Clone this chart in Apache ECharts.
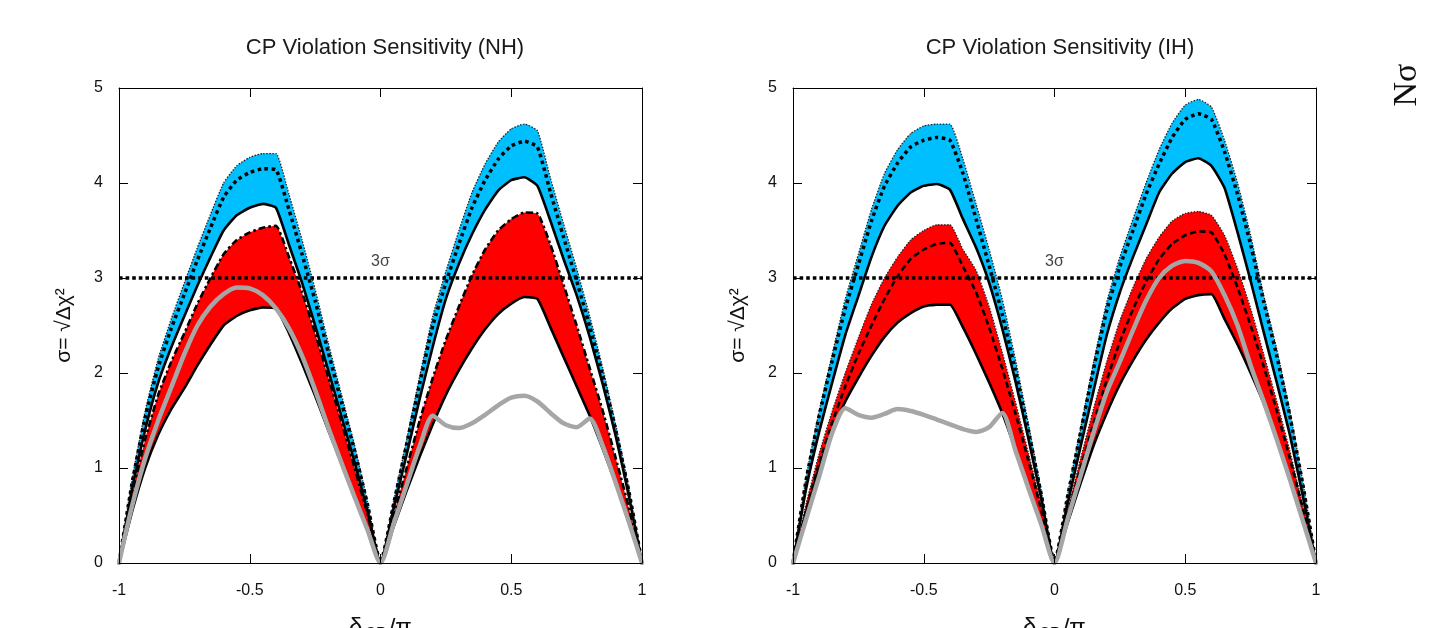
<!DOCTYPE html>
<html><head><meta charset="utf-8">
<script src="https://cdn.jsdelivr.net/npm/echarts@6/dist/echarts.min.js"></script>
<style>html,body{margin:0;padding:0;background:#fff}#c{width:1430px;height:628px}</style>
</head><body><div id="c"></div>
<script>
// delta_CP / pi grid
const xs = [-1,-0.95,-0.9,-0.85,-0.8,-0.75,-0.7,-0.65,-0.6,-0.55,-0.5,-0.45,-0.4,-0.35,-0.3,-0.25,-0.2,-0.15,-0.1,-0.05,
  0,0.05,0.1,0.15,0.2,0.25,0.3,0.35,0.4,0.45,0.5,0.55,0.6,0.65,0.7,0.75,0.8,0.85,0.9,0.95,1];

// ---- NH panel ----
const nhBlueTop = [0,0.88,1.6,2.15,2.57,2.95,3.32,3.67,4.0,4.18,4.27,4.31,4.31,3.88,3.4,2.88,2.32,1.78,1.25,0.65,
  0,0.65,1.3,1.97,2.6,3.07,3.5,3.9,4.2,4.43,4.57,4.62,4.55,4.05,3.57,3.1,2.6,2.05,1.45,0.78,0];
const nhBlueMid = [0,0.84,1.53,2.06,2.47,2.83,3.19,3.53,3.85,4.03,4.11,4.15,4.14,3.72,3.25,2.76,2.22,1.7,1.19,0.62,
  0,0.62,1.25,1.89,2.5,2.95,3.36,3.74,4.03,4.25,4.39,4.44,4.38,3.9,3.43,2.97,2.49,1.97,1.39,0.75,0];
const nhBlueBot = [0,0.77,1.4,1.9,2.27,2.6,2.92,3.22,3.5,3.66,3.74,3.78,3.74,3.35,2.95,2.5,2.03,1.55,1.07,0.55,
  0,0.57,1.14,1.73,2.28,2.78,3.15,3.46,3.72,3.92,4.03,4.06,3.97,3.6,3.2,2.82,2.38,1.88,1.33,0.7,0];
const nhRedTop = [0,0.72,1.3,1.77,2.12,2.42,2.73,3.0,3.25,3.4,3.48,3.53,3.55,3.22,2.85,2.42,1.96,1.49,1.01,0.52,
  0,0.5,1.0,1.5,1.95,2.35,2.7,3.03,3.3,3.5,3.62,3.69,3.68,3.35,2.93,2.5,2.05,1.6,1.1,0.58,0];
const nhRedBot = [0,0.54,1.0,1.35,1.62,1.84,2.08,2.3,2.5,2.6,2.66,2.69,2.68,2.42,2.1,1.76,1.4,1.05,0.7,0.35,
  0,0.38,0.76,1.12,1.46,1.77,2.03,2.26,2.46,2.62,2.73,2.8,2.78,2.48,2.17,1.86,1.55,1.2,0.83,0.43,0];
const nhGray = [0,0.6,1.1,1.5,1.85,2.2,2.5,2.7,2.83,2.9,2.89,2.82,2.68,2.47,2.18,1.82,1.43,1.06,0.7,0.35,
  0,0.41,0.82,1.23,1.55,1.45,1.42,1.47,1.56,1.66,1.74,1.76,1.7,1.58,1.47,1.43,1.52,1.23,0.84,0.43,0];

// ---- IH panel ----
const ihBlueTop = [0,0.9,1.6,2.2,2.78,3.25,3.72,4.1,4.35,4.52,4.6,4.62,4.62,4.25,3.78,3.3,2.78,2.15,1.47,0.75,
  0,0.72,1.42,2.12,2.75,3.22,3.62,4.0,4.35,4.63,4.82,4.88,4.8,4.45,4.0,3.45,2.82,2.25,1.6,0.85,0];
const ihBlueMid = [0,0.87,1.55,2.13,2.68,3.14,3.6,3.97,4.21,4.38,4.45,4.48,4.45,4.1,3.62,3.13,2.62,2.03,1.39,0.71,
  0,0.7,1.38,2.05,2.66,3.12,3.5,3.88,4.2,4.48,4.67,4.73,4.67,4.33,3.88,3.35,2.75,2.18,1.55,0.82,0];
const ihBlueBot = [0,0.78,1.38,1.9,2.4,2.81,3.22,3.55,3.76,3.9,3.97,3.99,3.93,3.62,3.32,2.95,2.47,1.92,1.31,0.67,
  0,0.62,1.23,1.82,2.4,2.85,3.22,3.56,3.9,4.1,4.22,4.26,4.18,3.95,3.48,2.97,2.43,1.9,1.35,0.7,0];
const ihRedTop = [0,0.62,1.15,1.6,2.0,2.37,2.72,3.0,3.22,3.4,3.5,3.56,3.56,3.3,3.08,2.7,2.22,1.7,1.16,0.6,
  0,0.55,1.1,1.63,2.12,2.55,2.9,3.2,3.43,3.6,3.68,3.7,3.66,3.45,3.1,2.68,2.2,1.7,1.18,0.6,0];
const ihRedMid = [0,0.55,1.05,1.48,1.86,2.2,2.5,2.78,3.02,3.2,3.3,3.36,3.37,3.12,2.85,2.48,2.05,1.58,1.08,0.55,
  0,0.5,1.0,1.48,1.93,2.33,2.67,2.96,3.2,3.36,3.45,3.49,3.48,3.25,2.9,2.5,2.07,1.6,1.1,0.57,0];
const ihRedBot = [0,0.52,1.0,1.38,1.7,1.95,2.18,2.38,2.53,2.63,2.7,2.72,2.72,2.48,2.2,1.9,1.58,1.2,0.8,0.4,
  0,0.42,0.84,1.24,1.58,1.88,2.13,2.35,2.53,2.68,2.78,2.82,2.83,2.57,2.3,2.0,1.68,1.3,0.9,0.46,0];
const ihGray = [0,0.46,0.91,1.37,1.63,1.56,1.53,1.57,1.62,1.6,1.56,1.51,1.46,1.41,1.38,1.43,1.58,1.19,0.79,0.4,
  0,0.46,0.92,1.38,1.8,2.12,2.45,2.76,3.0,3.13,3.18,3.16,3.07,2.82,2.5,2.08,1.7,1.3,0.88,0.44,0];

const sigmaLevel = [3];
const sigmaText = '3σ';
const xTickLabels = {'-1':'-1','-0.5':'-0.5','0':'0','0.5':'0.5','1':'1'};
const yTickLabels = {'0':'0','1':'1','2':'2','3':'3','4':'4','5':'5'};
const titles = ['CP Violation Sensitivity (NH)', 'CP Violation Sensitivity (IH)'];

const BLUE = '#00bfff', RED = '#ff0000', GRAY = '#a6a6a6';
const FONT = '"Liberation Sans", Arial, Helvetica, sans-serif';

function pts(ys){ return xs.map((x,i)=>[x, ys[i]]); }

function area(g, ys, color){
  return {type:'line', xAxisIndex:2*g, yAxisIndex:2*g, data:pts(ys), showSymbol:false, silent:true, smooth:0.15,
    lineStyle:{width:0, opacity:0}, areaStyle:{color:color, opacity:1, origin:'start'}, animation:false};
}
function line(g, ys, ls, color, sm){
  return {type:'line', xAxisIndex:2*g, yAxisIndex:2*g, data:pts(ys), showSymbol:false, silent:true,
    smooth: sm===undefined ? 0.15 : sm,
    lineStyle:Object.assign({color: color||'#000', cap:'butt', join:'miter'}, ls), animation:false};
}

const fineDot = {width:1.3, type:[1.5,1.5], color:'#222'};
const bigDot = {width:3.5, type:[3.5,3.5]};
const solid = {width:2.6, type:'solid'};
const dashDot = {width:2.6, type:[7,3,2.5,3]};
const dashed = {width:2.6, type:[6,3.5]};

function panel(g, d){
  const s = [
    area(g, d.bt, BLUE),
    area(g, d.bb, '#ffffff'),
    area(g, d.rt, RED),
    area(g, d.rb, '#ffffff'),
    line(g, d.bt, fineDot),
    line(g, d.bm, bigDot),
    line(g, d.bb, solid),
    line(g, d.rt, d.rtStyle),
  ];
  if (d.rm) s.push(line(g, d.rm, dashed));
  s.push(line(g, d.rb, solid));
  s.push({type:'line', xAxisIndex:2*g, yAxisIndex:2*g, data:[[-1,sigmaLevel[0]],[1,sigmaLevel[0]]],
    showSymbol:false, silent:true, animation:false,
    lineStyle:{color:'#000', width:3.6, type:[3.6,3], cap:'butt'}});
  s.push(line(g, d.gr, {width:4.5, type:'solid', cap:'round', join:'round'}, GRAY, 0.25));
  s.push({type:'scatter', xAxisIndex:2*g, yAxisIndex:2*g, data:[[0, sigmaLevel[0]]], symbolSize:0, silent:true,
    animation:false,
    label:{show:true, position:'top', distance:8, formatter:sigmaText, fontSize:16, color:'#111', fontFamily:FONT}});
  return s;
}

function xAx(g, pos){
  const bottom = pos==='bottom';
  return {gridIndex:g, type:'value', position:pos, min:-1, max:1, interval:0.5, z:10,
    axisLine:{onZero:false, lineStyle:{color:'#000', width:1}},
    axisTick:{inside:true, length:9, lineStyle:{color:'#000'}},
    axisLabel:{show:bottom, margin:20, fontSize:16, color:'#111', fontFamily:FONT,
      formatter:v=>xTickLabels[String(v)] ?? String(v)},
    splitLine:{show:false},
    name: bottom ? '{d|δ}{s|CP}{d|/π}' : '',
    nameLocation:'middle', nameGap:50,
    nameTextStyle:{rich:{d:{fontSize:24, fontFamily:FONT, color:'#111'}, s:{fontSize:16, fontFamily:FONT, color:'#111', verticalAlign:'bottom', padding:[14,2,0,2]}}}
  };
}
function yAx(g, pos){
  const left = pos==='left';
  return {gridIndex:g, type:'value', position:pos, min:0, max:5, interval:1, z:10,
    axisLine:{onZero:false, lineStyle:{color:'#000', width:1}},
    axisTick:{inside:true, length:9, lineStyle:{color:'#000'}},
    axisLabel:{show:left, margin:16, fontSize:16, color:'#111', fontFamily:FONT,
      formatter:v=>yTickLabels[String(v)] ?? String(v)},
    splitLine:{show:false},
    name: left ? 'σ= √Δχ²' : '',
    nameLocation:'middle', nameGap:44, nameRotate:90,
    nameTextStyle:{fontSize:21, fontFamily:FONT, color:'#111'}
  };
}

const option = {
  backgroundColor:'#ffffff',
  animation:false,
  title: titles.map((t,i)=>({text:t, left: i===0 ? 380 : 1055, top:32, textAlign:'center',
    textStyle:{fontSize:22, fontWeight:'normal', color:'#1a1a1a', fontFamily:FONT}})),
  grid:[{left:119, top:88, width:523, height:475, outerBoundsMode:'none', containLabel:false},
        {left:793, top:88, width:523, height:475, outerBoundsMode:'none', containLabel:false}],
  xAxis:[xAx(0,'bottom'), xAx(0,'top'), xAx(1,'bottom'), xAx(1,'top')],
  yAxis:[yAx(0,'left'), yAx(0,'right'), yAx(1,'left'), yAx(1,'right')],
  graphic:[{type:'text', x:1407, y:85, rotation:Math.PI/2,
    style:{text:'Nσ', font:'34px "Liberation Serif", "DejaVu Serif", serif', fill:'#111', align:'center', verticalAlign:'middle'}}],
  series:[].concat(
    panel(0, {bt:nhBlueTop, bm:nhBlueMid, bb:nhBlueBot, rt:nhRedTop, rtStyle:dashDot, rb:nhRedBot, gr:nhGray}),
    panel(1, {bt:ihBlueTop, bm:ihBlueMid, bb:ihBlueBot, rt:ihRedTop, rtStyle:fineDot, rm:ihRedMid, rb:ihRedBot, gr:ihGray})
  )
};
const chart = echarts.init(document.getElementById('c'));
chart.setOption(option);
</script></body></html>
